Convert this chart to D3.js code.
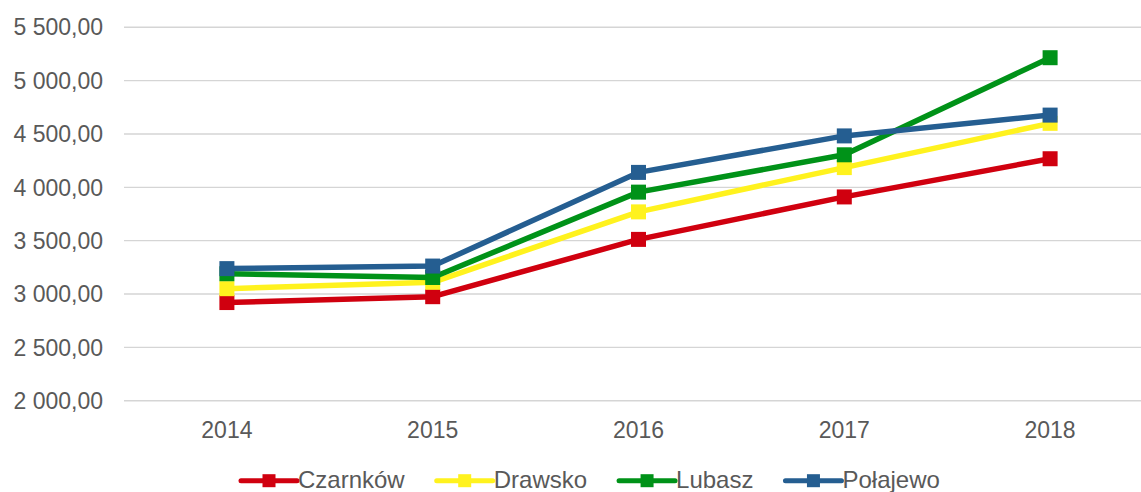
<!DOCTYPE html>
<html>
<head>
<meta charset="utf-8">
<script src="https://cdn.jsdelivr.net/npm/d3@7"></script>
<style>
  body { margin: 0; background: #fff; }
  svg { display: block; font-family: "Liberation Sans", Arial, sans-serif; }
</style>
</head>
<body>
<div id="chart"></div>
<script>
var width  = 1141;
var height = 492;

// data
var years = ["2014", "2015", "2016", "2017", "2018"];
var seriesNames = ["Czarnków", "Drawsko", "Lubasz", "Połajewo"];
var czarnkow = [2920, 2975, 3512, 3910, 4268];
var drawsko  = [3050, 3110, 3770, 4185, 4600];
var lubasz   = [3190, 3155, 3955, 4305, 5215];
var polajewo = [3238, 3262, 4140, 4482, 4677];
var yTicks = [2000, 2500, 3000, 3500, 4000, 4500, 5000, 5500];
var colors = ["#d0000f", "#fff21e", "#009218", "#255e91"];

var allSeries = [czarnkow, drawsko, lubasz, polajewo];

var x = d3.scaleBand()
  .domain(years)
  .range([124, 1153])
  .padding(0);

var y = d3.scaleLinear()
  .domain([2000, 5500])
  .range([400.7, 27.3]);

var svg = d3.select("#chart").append("svg")
  .attr("width", width)
  .attr("height", height);

// gridlines
svg.append("g").selectAll("line").data(yTicks)
  .enter().append("line")
  .attr("x1", 124)
  .attr("x2", 1153)
  .attr("y1", function(d) { return y(d); })
  .attr("y2", function(d) { return y(d); })
  .attr("stroke", "#d5d5d5")
  .attr("stroke-width", 1.4);

// polish number format: "5 500,00"
var fmt = d3.formatLocale({ decimal: ",", thousands: "\u00a0", grouping: [3], currency: ["", " zł"] }).format(",.2f");

svg.append("g").selectAll("text").data(yTicks)
  .enter().append("text")
  .attr("x", 103)
  .attr("y", function(d) { return y(d); })
  .attr("dy", "0.356em")
  .attr("text-anchor", "end")
  .attr("font-size", 23)
  .attr("fill", "#595959")
  .text(function(d) { return fmt(d); });

svg.append("g").selectAll("text").data(years)
  .enter().append("text")
  .attr("x", function(d) { return x(d) + x.bandwidth() / 2; })
  .attr("y", 438)
  .attr("text-anchor", "middle")
  .attr("font-size", 23)
  .attr("fill", "#595959")
  .text(function(d) { return d; });

var line = d3.line()
  .x(function(d, i) { return x(years[i]) + x.bandwidth() / 2; })
  .y(function(d) { return y(d); });

allSeries.forEach(function(vals, s) {
  var g = svg.append("g");
  g.append("path")
    .datum(vals)
    .attr("d", line)
    .attr("fill", "none")
    .attr("stroke", colors[s])
    .attr("stroke-width", 5.5)
    .attr("stroke-linejoin", "round")
    .attr("stroke-linecap", "round");
  g.selectAll("rect").data(vals)
    .enter().append("rect")
    .attr("x", function(d, i) { return x(years[i]) + x.bandwidth() / 2 - 7.5; })
    .attr("y", function(d) { return y(d) - 7.5; })
    .attr("width", 15)
    .attr("height", 15)
    .attr("fill", colors[s]);
});

// legend
var lx = 241;
var ly = 480.7;
seriesNames.forEach(function(name, s) {
  var item = svg.append("g");
  item.append("line")
    .attr("x1", lx).attr("x2", lx + 56)
    .attr("y1", ly).attr("y2", ly)
    .attr("stroke", colors[s])
    .attr("stroke-width", 5)
    .attr("stroke-linecap", "round");
  item.append("rect")
    .attr("x", lx + 28 - 6.5)
    .attr("y", ly - 6.5)
    .attr("width", 13)
    .attr("height", 13)
    .attr("fill", colors[s]);
  var t = item.append("text")
    .attr("x", lx + 57)
    .attr("y", 488)
    .attr("font-size", 24)
    .attr("fill", "#595959")
    .text(name);
  lx = lx + 57 + t.node().getComputedTextLength() + 32;
});
</script>
</body>
</html>
